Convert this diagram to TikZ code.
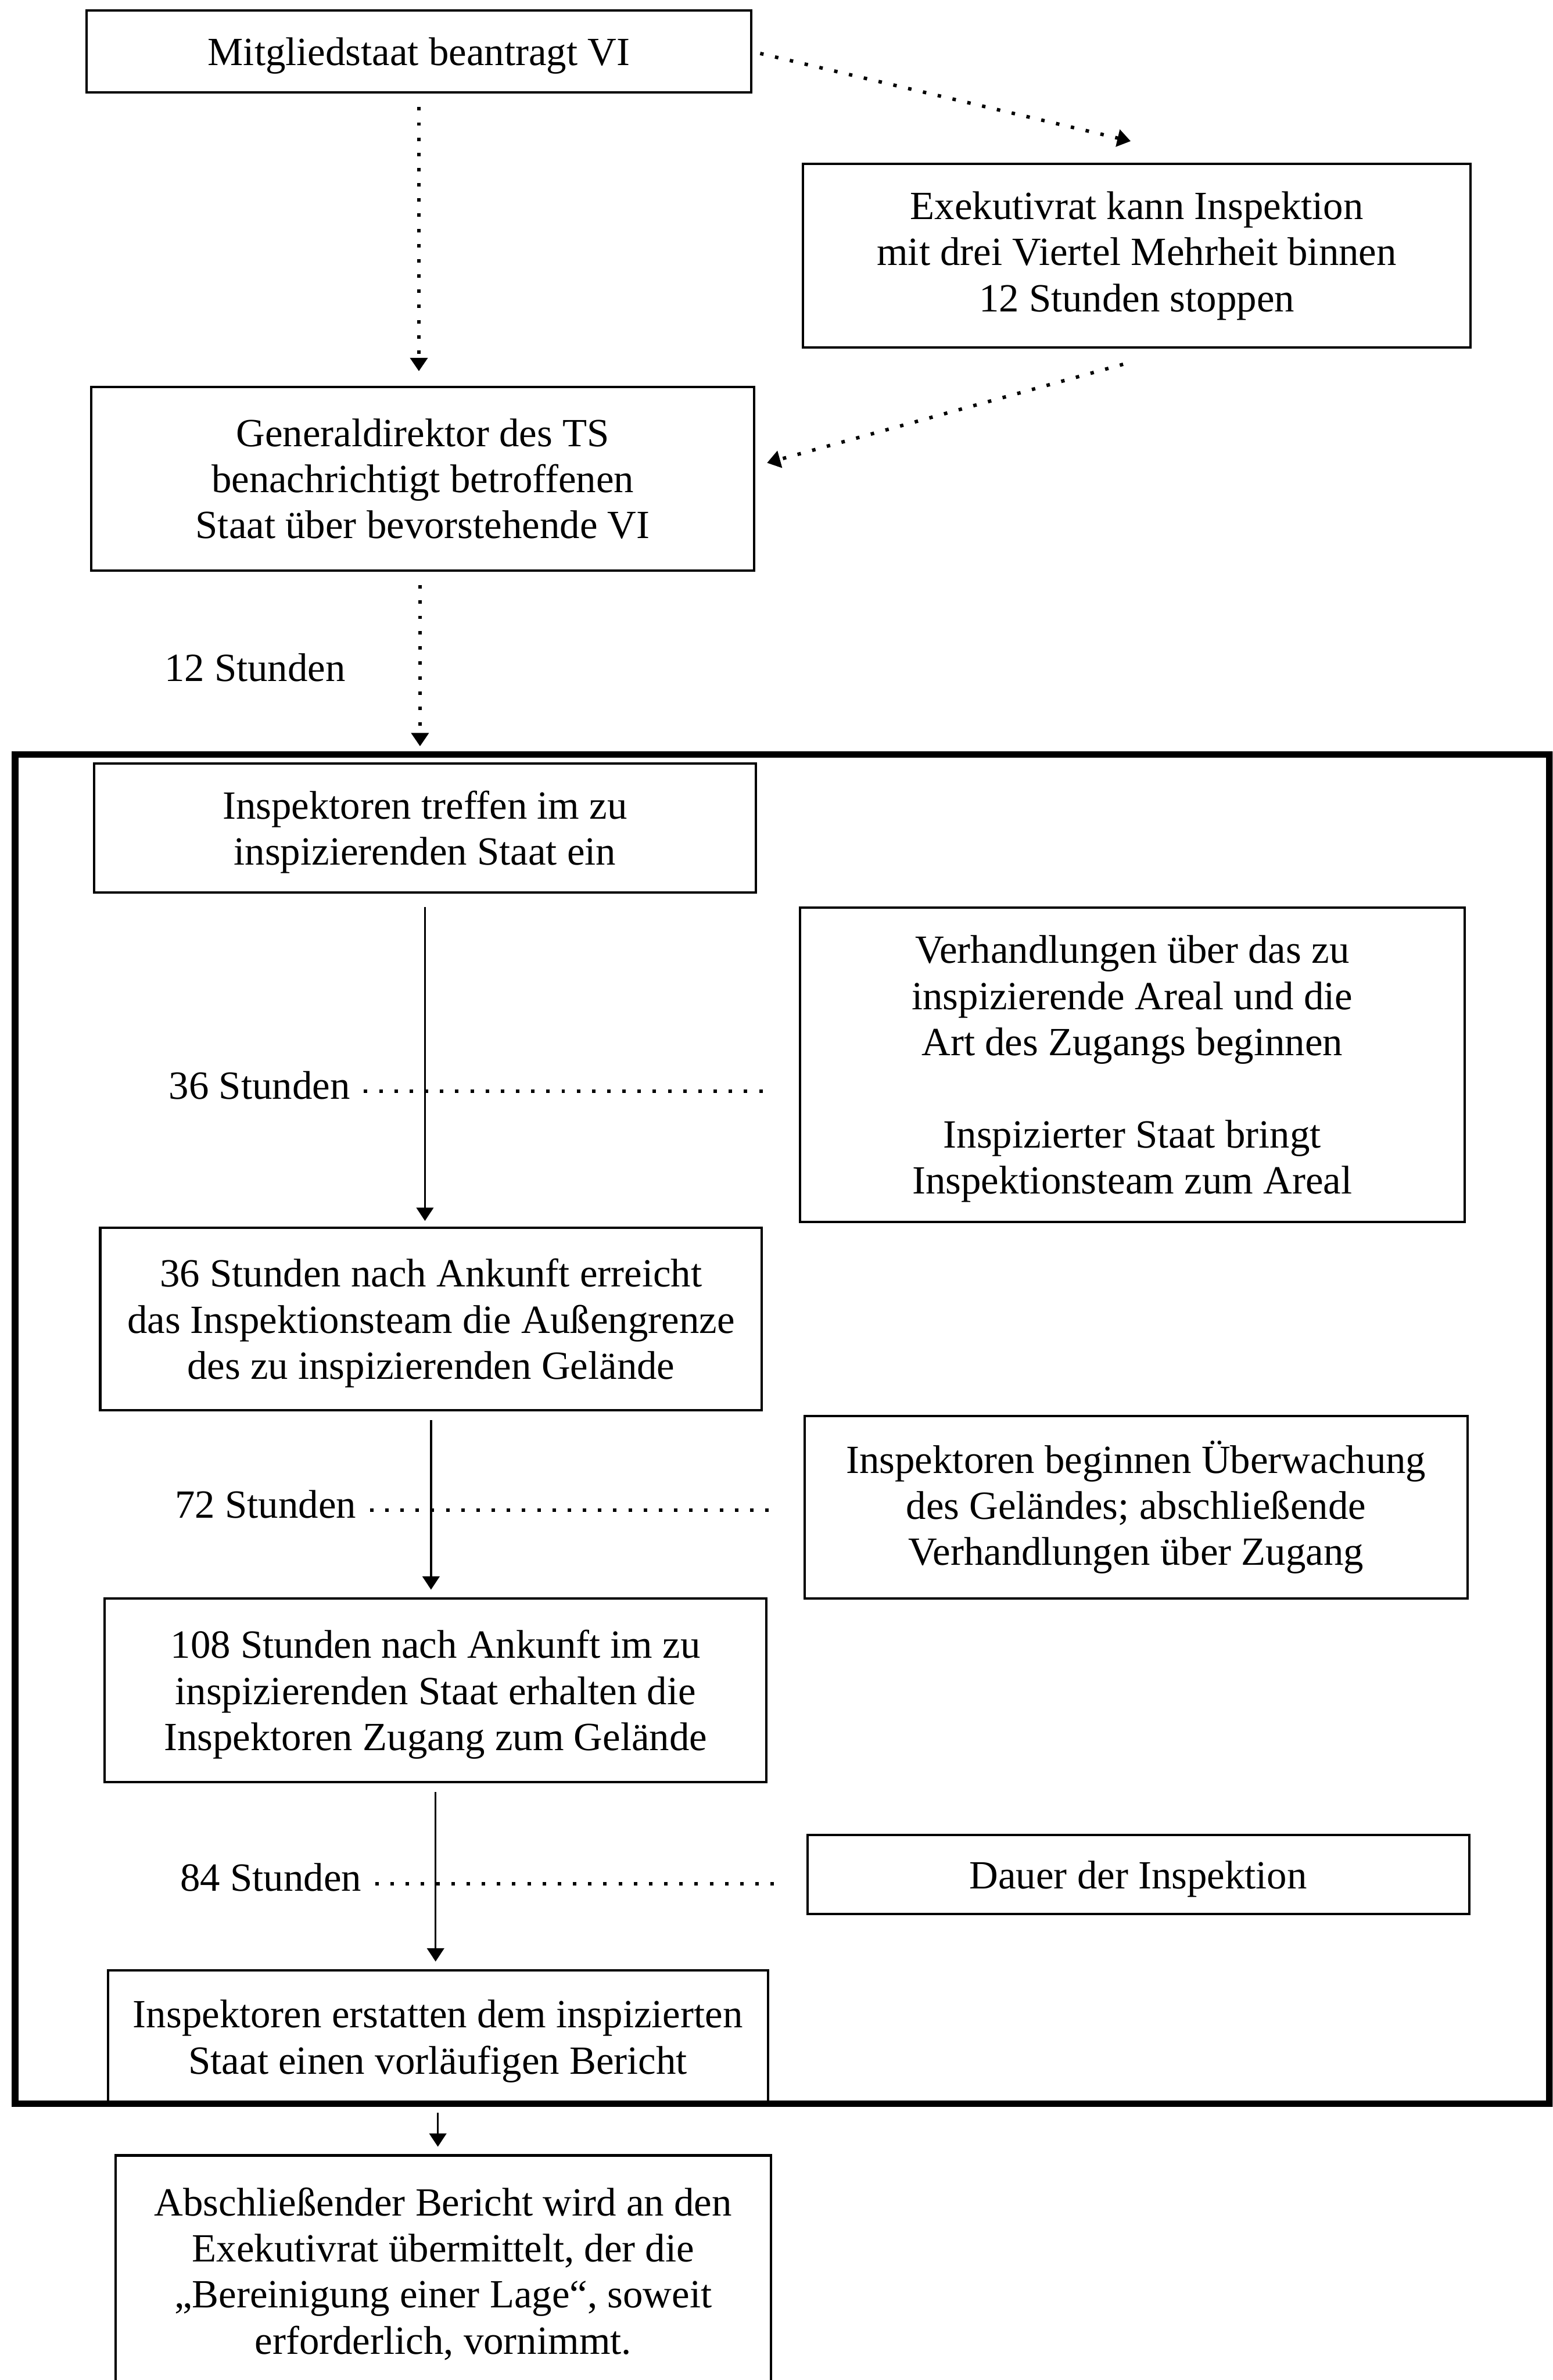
\documentclass[tikz,border=0pt]{standalone}
\usepackage{fontspec}
\setmainfont{Liberation Serif}
\usetikzlibrary{arrows.meta}
\begin{document}
\begin{tikzpicture}[x=0.02cm,y=-0.02cm,
  txt/.style={font=\fontsize{15}{17.3}\selectfont},
  box/.style={txt,draw,line width=0.9pt,align=center,inner sep=0pt},
  low/.style={text depth=0pt},
  lbl/.style={txt,inner sep=0pt},
  tip/.style={-{Triangle[length=5pt,width=6.4pt]}},
  arr/.style={tip,line width=0.75pt},
  dotline/.style={line width=1.3pt,dash pattern=on 1.3pt off 4.4pt},
  dotarr/.style={dotline,tip},
  frame/.style={draw,line width=2.5pt}
]
\clip (0,0) rectangle (1023,1568);
\fill[white] (0,0) rectangle (1023,1568);

% frame around the inspection phase
\draw[frame] (10,497) rectangle (1021,1386);

% boxes
\node[box,low,minimum width=8.76cm,minimum height=1.08cm] (b1) at (276,34) {Mitgliedstaat beantragt VI};
\node[box,minimum width=8.8cm,minimum height=2.42cm] (b2) at (749,168.5) {Exekutivrat kann Inspektion\\mit drei Viertel Mehrheit binnen\\12 Stunden stoppen};
\node[box,minimum width=8.74cm,minimum height=2.42cm] (b3) at (278.5,315.5) {Generaldirektor des TS\\benachrichtigt betroffenen\\Staat über bevorstehende VI};
\node[box,low,minimum width=8.72cm,minimum height=1.7cm] (b5) at (280,545.5) {Inspektoren treffen im zu\\inspizierenden Staat ein};
\node[box,low,minimum width=8.76cm,minimum height=4.14cm] (b6) at (746,701.5) {Verhandlungen über das zu\\inspizierende Areal und die\\Art des Zugangs beginnen\\[17.3pt]Inspizierter Staat bringt\\Inspektionsteam zum Areal};
\node[box,low,minimum width=8.72cm,minimum height=2.4cm] (b7) at (284,869) {36 Stunden nach Ankunft erreicht\\das Inspektionsteam die Außengrenze\\des zu inspizierenden Gelände};
\node[box,minimum width=8.74cm,minimum height=2.4cm] (b8) at (748.5,993) {Inspektoren beginnen Überwachung\\des Geländes; abschließende\\Verhandlungen über Zugang};
\node[box,low,minimum width=8.72cm,minimum height=2.42cm] (b9) at (287,1113.5) {108 Stunden nach Ankunft im zu\\inspizierenden Staat erhalten die\\Inspektoren Zugang zum Gelände};
\node[box,low,minimum width=8.72cm,minimum height=1.04cm] (b10) at (750,1235) {Dauer der Inspektion};
\node[box,low,minimum width=8.7cm,minimum height=1.76cm] (b11) at (288.5,1342) {Inspektoren erstatten dem inspizierten\\Staat einen vorläufigen Bericht};
\node[box,low,minimum width=8.64cm,minimum height=3.04cm] (b12) at (292,1496) {Abschließender Bericht wird an den\\Exekutivrat übermittelt, der die\\„Bereinigung einer Lage“, soweit\\erforderlich, vornimmt.};

% time labels
\node[lbl] (l12) at (168,440) {12 Stunden};
\node[lbl] (l36) at (171,715) {36 Stunden};
\node[lbl] (l72) at (175,991) {72 Stunden};
\node[lbl] (l84) at (178.5,1237) {84 Stunden};
\coordinate (e36) at (510,719);
\coordinate (e72) at (510,995);
\coordinate (e84) at (512,1241);
\draw[dotline,shorten <=5pt] (l36.east |- e36) -- (e36);
\draw[dotline,shorten <=5pt] (l72.east |- e72) -- (e72);
\draw[dotline,shorten <=5pt] (l84.east |- e84) -- (e84);

% dotted connectors
\coordinate (t1) at (745,93);
\coordinate (s2) at (740,240);
\draw[dotarr,shorten <=3pt] (b1.east) -- (t1);
\draw[dotarr,shorten <=5pt,shorten >=5.5pt] (b1.south) -- (b1.south |- b3.north);
\draw[dotarr,shorten >=4.5pt] (s2) -- ([yshift=4.8pt]b3.east);
\draw[dotarr,shorten <=5pt,shorten >=6pt] ([xshift=-1pt]b3.south) -- ([xshift=-1pt]b3.south |- b5.north);

% solid connectors
\draw[arr,shorten <=5pt,shorten >=2.2pt] (b5.south) -- (b5.south |- b7.north);
\draw[arr,shorten <=3.4pt,shorten >=2.8pt] (b7.south) -- (b7.south |- b9.north);
\draw[arr,shorten <=3.4pt,shorten >=2.8pt] (b9.south) -- (b9.south |- b11.north);
\draw[arr,shorten <=3pt,shorten >=2.8pt] (b11.south) -- (b11.south |- b12.north);
\end{tikzpicture}
\end{document}
